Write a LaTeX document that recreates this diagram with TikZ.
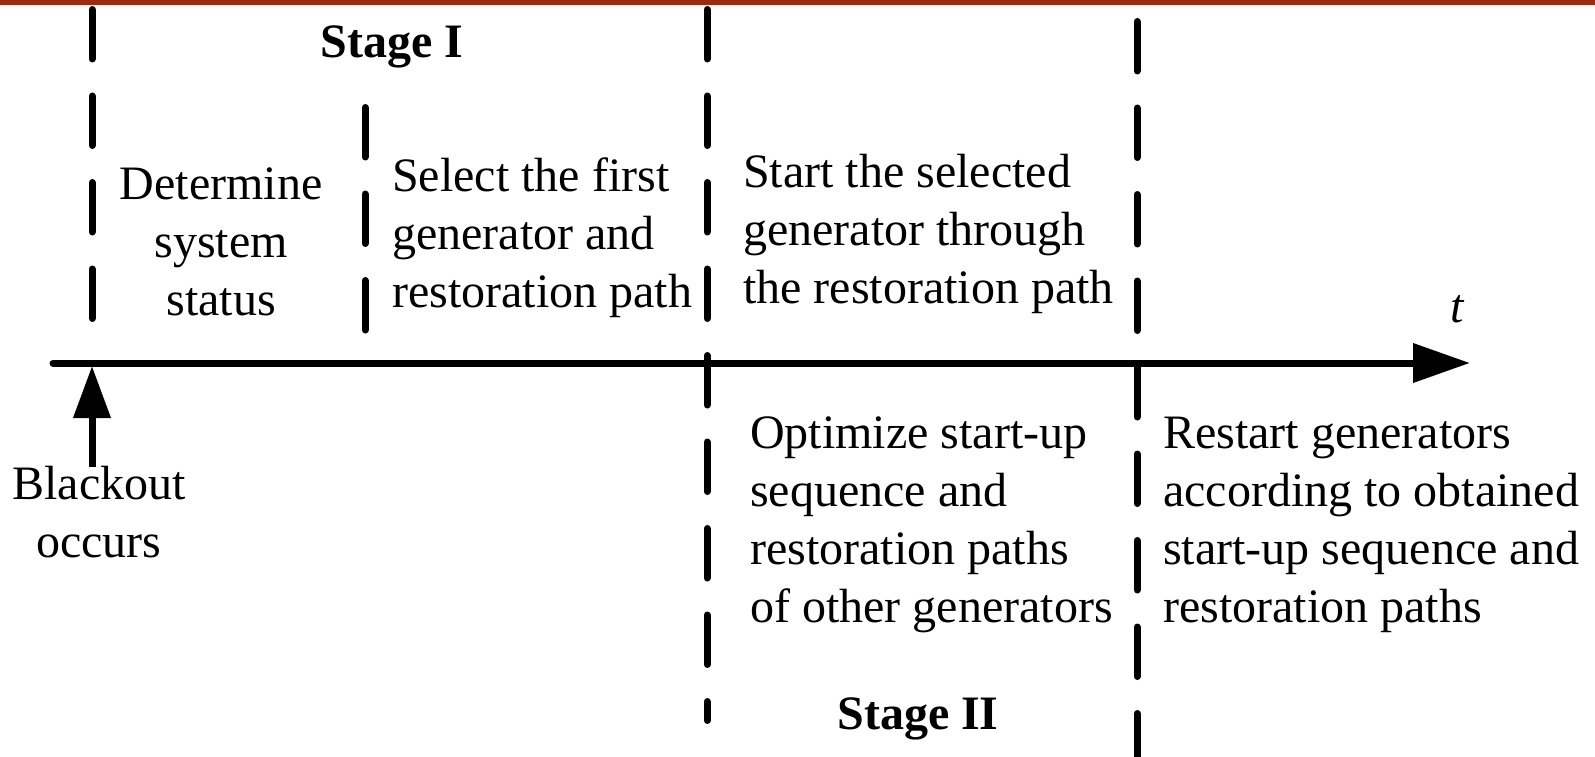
\documentclass[tikz,border=0pt]{standalone}
\usepackage{fontspec}
\setmainfont{Liberation Serif}
\usetikzlibrary{arrows.meta}
\definecolor{barred}{HTML}{9E2A12}
\tikzset{
  txt/.style={inner sep=0pt, font=\fontsize{48}{58}\selectfont},
  lefttxt/.style={txt, align=left, anchor=west},
  ctrtxt/.style={txt, align=center},
  dashline/.style={line width=7pt, line cap=round, dash pattern=on 49.5pt off 37pt},
  axis/.style={line width=7pt, line cap=round, -{Triangle[length=57pt,width=38pt]}},
  pointer/.style={line width=7pt, -{Triangle[length=52pt,width=36pt]}}
}
\begin{document}
\begin{tikzpicture}[x=1pt,y=-1pt]
\useasboundingbox (0,0) rectangle (1595,757);
\fill[white] (0,0) rectangle (1595,757);
\fill[barred] (0,0) rectangle (1595,5.5);

% dashed separators
\coordinate (d1a) at (92,9.5);   \coordinate (d1b) at (92,318.5);
\coordinate (d2a) at (365,107.5); \coordinate (d2b) at (365,330.5);
\coordinate (d3a) at (707,9.5);  \coordinate (d3b) at (707,720.5);
\coordinate (d4a) at (1137,21.5); \coordinate (d4b) at (1137,800);
\draw[dashline] (d1a) -- (d1b);
\draw[dashline] (d2a) -- (d2b);
\draw[dashline] (d3a) -- (d3b);
\draw[dashline] (d4a) -- (d4b);

% time axis
\coordinate (t0) at (53,363);
\coordinate (t1) at (1470,363);
\draw[axis] (t0) -- (t1);
\node[txt, font=\fontsize{48}{58}\selectfont\itshape] (tlab) at (1457,309) {t};

% texts
\node[txt, font=\fontsize{48}{58}\selectfont\bfseries] (s1) at (392,47) {Stage I};
\node[txt, font=\fontsize{48}{58}\selectfont\bfseries] (s2) at (918,719) {Stage II};
\node[ctrtxt] (det) at (221,242) {Determine\\system\\status};
\node[lefttxt] (sel) at (392,238) {Select the first\\generator and\\restoration path};
\node[lefttxt] (sta) at (743,234) {Start the selected\\generator through\\the restoration path};
\node[lefttxt] (opt) at (750,525) {Optimize start-up\\sequence and\\restoration paths\\of other generators};
\node[lefttxt] (res) at (1163,525) {Restart generators\\according to obtained\\start-up sequence and\\restoration paths};
\node[ctrtxt] (bo) at (99,512) {Blackout\\occurs};

\coordinate (boTop) at (92,467);
\coordinate (boTip) at (92,366);
\draw[pointer] (boTop) -- (boTip);
\end{tikzpicture}
\end{document}
